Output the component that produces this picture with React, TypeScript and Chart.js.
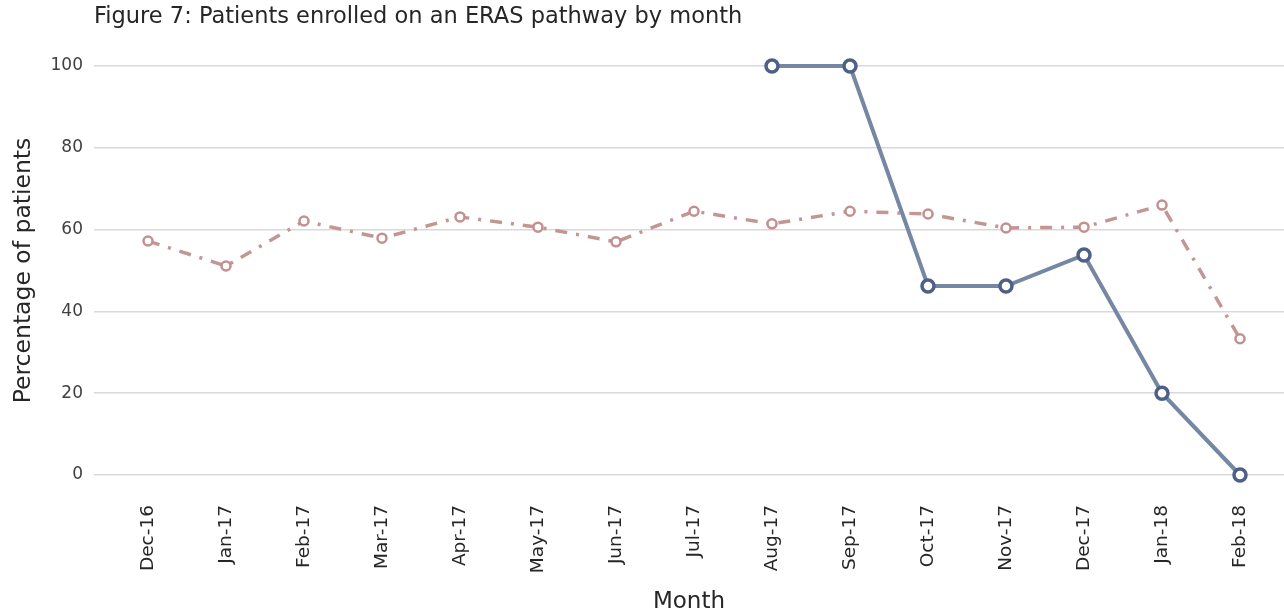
import { useEffect, useRef } from "react";
import { Chart, registerables } from "chart.js";

Chart.register(...registerables);

const chartTitle = "Figure 7: Patients enrolled on an ERAS pathway by month";
const months = [
  "Dec-16", "Jan-17", "Feb-17", "Mar-17", "Apr-17", "May-17", "Jun-17", "Jul-17",
  "Aug-17", "Sep-17", "Oct-17", "Nov-17", "Dec-17", "Jan-18", "Feb-18",
];
const erasPathway: (number | null)[] = [
  null, null, null, null, null, null, null, null, 100, 100, 46.2, 46.2, 53.8, 20, 0,
];
const comparison: number[] = [
  57.2, 51.1, 62.1, 57.9, 63.1, 60.6, 57.0, 64.5, 61.4, 64.5, 63.8, 60.4, 60.6, 66.0, 33.3,
];
const yTickValues = [0, 20, 40, 60, 80, 100];

const FONT = "DejaVu Sans";

const titlePlugin = {
  id: "figTitle",
  afterDraw(chart: any) {
    const { ctx, chartArea } = chart;
    ctx.save();
    ctx.font = `22.5px "${FONT}"`;
    ctx.fillStyle = "#262626";
    ctx.textAlign = "left";
    ctx.textBaseline = "middle";
    ctx.fillText(chartTitle, chartArea.left, 17);
    ctx.restore();
  },
};

export default function App() {
  const ref = useRef<HTMLCanvasElement | null>(null);

  useEffect(() => {
    if (!ref.current) return;
    const toPoints = (arr: (number | null)[]) => arr.map((v, i) => ({ x: i, y: v }));
    const chart = new Chart(ref.current, {
      type: "line",
      data: {
        datasets: [
          {
            label: "ERAS",
            data: toPoints(erasPathway) as any,
            borderColor: "#7587a3",
            borderWidth: 4,
            pointRadius: 6,
            pointBorderWidth: 3.5,
            pointBorderColor: "#4e6087",
            pointBackgroundColor: "#ffffff",
            spanGaps: false,
            clip: false as any,
          },
          {
            label: "Comparison",
            data: toPoints(comparison) as any,
            borderColor: "#c49595",
            borderWidth: 3.5,
            borderDash: [12, 9, 3, 9],
            pointRadius: 4.5,
            pointBorderWidth: 2.5,
            pointBorderColor: "#c29090",
            pointBackgroundColor: "#ffffff",
            clip: false as any,
          },
        ],
      },
      options: {
        animation: false,
        responsive: false,
        devicePixelRatio: 1,
        layout: { autoPadding: false, padding: { top: 66, right: 0, bottom: 0, left: 0 } },
        plugins: {
          legend: { display: false },
          tooltip: { enabled: false },
          title: { display: false },
        },
        scales: {
          x: {
            type: "linear",
            min: -0.692,
            max: 14.564,
            afterBuildTicks: (scale: any) => {
              scale.ticks = months.map((_, i) => ({ value: i }));
            },
            afterFit: (scale: any) => {
              scale.height = 141;
              scale.paddingLeft = 0;
              scale.paddingRight = 0;
            },
            grid: { display: false, drawTicks: false },
            border: { display: false },
            ticks: {
              autoSkip: false,
              minRotation: 90,
              maxRotation: 90,
              padding: 30,
              color: "#262626",
              font: { family: FONT, size: 18.5 },
              callback: (v: any) => months[Math.round(Number(v))] ?? "",
            },
            title: {
              display: true,
              text: "Month",
              color: "#262626",
              font: { family: FONT, size: 23 },
              padding: { top: 0, bottom: 0 },
            },
          },
          y: {
            type: "linear",
            min: 0,
            max: 100,
            afterBuildTicks: (scale: any) => {
              scale.ticks = yTickValues.map((v) => ({ value: v }));
            },
            afterFit: (scale: any) => {
              scale.width = 94;
            },
            grid: { color: "#d9d9d9", lineWidth: 1.5, drawTicks: false },
            border: { display: false },
            ticks: {
              padding: 11,
              color: "#404040",
              font: { family: FONT, size: 17 },
            },
            title: {
              display: true,
              text: "Percentage of patients",
              color: "#262626",
              font: { family: FONT, size: 23.5 },
              padding: { top: 10, bottom: 0 },
            },
          },
        },
      },
      plugins: [titlePlugin],
    });
    return () => chart.destroy();
  }, []);

  return (
    <div style={{ position: "fixed", left: 0, top: 0, width: 1284, height: 616, background: "#fff" }}>
      <canvas ref={ref} width={1284} height={616} />
    </div>
  );
}
